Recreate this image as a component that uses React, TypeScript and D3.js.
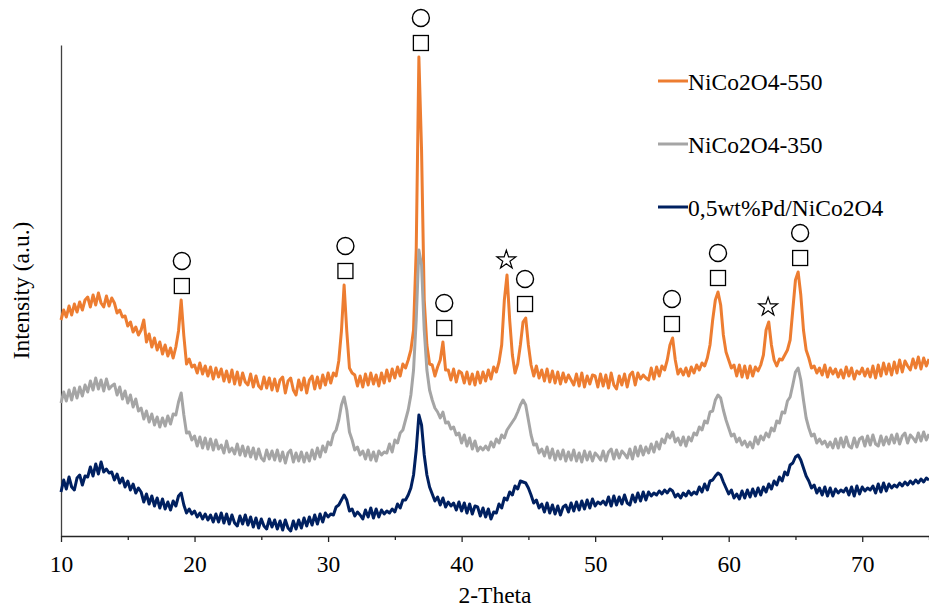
import { useEffect, useRef } from 'react';
import * as d3 from 'd3';

// 2-theta grid of the scans, 0.2° step from 10 to 75
const twoTheta = d3.range(326).map((i) => +(10 + i * 0.2).toFixed(1));

// offset intensities (a.u.), one value per grid step
const nico550 = [
  216, 226, 219, 230, 221, 232, 224, 234, 226, 236,
  239, 229, 241, 231, 243, 233, 229, 240, 230, 238,
  233, 223, 226, 219, 220, 210, 214, 204, 209, 201,
  206, 216, 194, 202, 189, 198, 186, 194, 182, 191,
  180, 188, 178, 189, 205, 236, 200, 172, 177, 169,
  171, 163, 173, 162, 170, 160, 169, 157, 168, 159,
  167, 155, 165, 154, 166, 152, 164, 151, 163, 154,
  151, 162, 149, 160, 150, 147, 159, 148, 158, 146,
  157, 145, 156, 159, 143, 155, 158, 146, 141, 156,
  146, 158, 143, 156, 160, 147, 159, 148, 161, 151,
  163, 153, 163, 160, 175, 205, 251, 205, 168, 163,
  161, 150, 160, 149, 162, 151, 163, 152, 161, 150,
  163, 153, 166, 155, 167, 158, 169, 160, 172, 168,
  176, 186, 206, 286, 479, 386, 236, 191, 172, 171,
  160, 169, 176, 194, 166, 166, 156, 167, 154, 165,
  163, 153, 164, 152, 162, 151, 164, 153, 164, 155,
  166, 157, 169, 164, 174, 191, 236, 261, 216, 181,
  163, 172, 191, 214, 218, 191, 171, 160, 170, 158,
  166, 155, 167, 154, 165, 153, 164, 152, 163, 154,
  161, 156, 151, 162, 150, 163, 149, 160, 152, 161,
  160, 149, 162, 150, 161, 148, 163, 151, 147, 160,
  151, 162, 149, 161, 164, 151, 163, 157, 161, 158,
  156, 168, 157, 169, 160, 170, 166, 176, 191, 198,
  176, 162, 167, 161, 168, 160, 169, 163, 171, 166,
  173, 170, 178, 191, 216, 236, 244, 231, 201, 184,
  176, 168, 171, 160, 171, 159, 170, 158, 170, 160,
  169, 165, 171, 181, 206, 214, 191, 176, 170, 177,
  176, 181, 186, 196, 226, 256, 264, 241, 206, 186,
  178, 168, 170, 163, 168, 161, 171, 159, 168, 162,
  167, 159, 166, 158, 169, 160, 168, 157, 165, 162,
  168, 160, 167, 159, 170, 158, 171, 160, 173, 162,
  172, 161, 174, 163, 176, 164, 175, 170, 166, 177,
  168, 179, 167, 178, 170, 177,
];

const nico350 = [
  133, 144, 135, 146, 136, 148, 138, 149, 140, 151,
  144, 155, 146, 158, 147, 156, 145, 157, 147, 150,
  152, 141, 149, 137, 145, 133, 141, 129, 137, 125,
  128, 117, 125, 114, 122, 111, 119, 109, 118, 110,
  120, 112, 122, 121, 134, 143, 121, 103, 104, 96,
  100, 90, 99, 88, 98, 87, 97, 86, 96, 87,
  91, 83, 95, 84, 88, 82, 92, 81, 90, 80,
  89, 79, 88, 77, 87, 78, 75, 86, 77, 85,
  76, 86, 75, 84, 73, 83, 86, 74, 83, 75,
  84, 74, 83, 75, 86, 77, 88, 79, 90, 84,
  94, 91, 102, 106, 116, 131, 139, 126, 104, 96,
  86, 89, 81, 85, 77, 86, 76, 84, 75, 85,
  81, 84, 83, 92, 84, 96, 93, 103, 106, 116,
  126, 141, 166, 216, 286, 271, 206, 166, 146, 136,
  128, 124, 118, 124, 113, 114, 107, 109, 101, 103,
  93, 101, 90, 98, 87, 95, 85, 89, 86, 90,
  86, 94, 89, 97, 93, 101, 98, 106, 110, 114,
  118, 124, 131, 136, 131, 116, 101, 91, 92, 83,
  87, 80, 89, 78, 87, 76, 85, 77, 86, 75,
  84, 76, 86, 75, 83, 74, 85, 76, 84, 75,
  83, 80, 76, 85, 75, 84, 87, 77, 86, 78,
  85, 82, 78, 87, 77, 89, 80, 90, 81, 89,
  83, 92, 84, 94, 87, 97, 93, 102, 98, 104,
  94, 98, 91, 99, 90, 99, 95, 103, 101, 109,
  106, 115, 113, 124, 125, 136, 141, 138, 126, 116,
  108, 100, 102, 94, 98, 91, 95, 89, 94, 88,
  99, 92, 100, 96, 103, 99, 108, 105, 115, 113,
  124, 123, 135, 139, 151, 164, 168, 156, 136, 118,
  108, 100, 102, 93, 97, 92, 95, 89, 94, 88,
  97, 88, 98, 89, 99, 90, 88, 98, 89, 97,
  99, 90, 100, 91, 101, 92, 90, 100, 91, 99,
  92, 101, 93, 102, 92, 100, 103, 93, 101, 98,
  94, 103, 95, 104, 96, 102,
];

const pdNico = [
  44, 56, 47, 59, 49, 46, 58, 61, 51, 60,
  59, 69, 60, 72, 62, 74, 64, 67, 63, 64,
  56, 62, 53, 58, 49, 55, 46, 52, 43, 48,
  44, 34, 42, 32, 40, 30, 38, 28, 37, 27,
  34, 26, 35, 30, 40, 43, 31, 23, 27, 22,
  25, 19, 23, 17, 22, 16, 21, 14, 22, 14,
  23, 13, 22, 12, 21, 13, 10, 20, 12, 21,
  11, 19, 9, 18, 8, 17, 10, 7, 17, 9,
  16, 7, 15, 6, 16, 8, 5, 15, 7, 16,
  8, 18, 10, 19, 11, 21, 12, 22, 14, 23,
  19, 22, 21, 29, 31, 36, 41, 36, 25, 27,
  20, 24, 21, 17, 26, 19, 28, 18, 27, 19,
  26, 22, 25, 23, 27, 24, 32, 28, 36, 36,
  41, 48, 61, 86, 121, 111, 81, 61, 49, 42,
  35, 39, 31, 38, 29, 34, 30, 33, 26, 34,
  25, 33, 23, 32, 22, 30, 29, 20, 28, 19,
  27, 17, 24, 23, 32, 28, 38, 36, 44, 41,
  50, 47, 55, 54, 53, 48, 41, 33, 36, 28,
  32, 24, 33, 23, 31, 22, 30, 21, 29, 31,
  24, 33, 25, 34, 26, 35, 27, 36, 28, 37,
  30, 34, 32, 35, 31, 39, 30, 40, 31, 39,
  32, 41, 33, 31, 41, 34, 43, 35, 44, 36,
  44, 40, 43, 41, 45, 42, 46, 43, 47, 45,
  39, 42, 38, 43, 40, 45, 41, 44, 42, 49,
  44, 52, 46, 55, 56, 60, 63, 61, 54, 48,
  42, 46, 38, 42, 37, 45, 38, 46, 39, 47,
  40, 48, 41, 49, 44, 52, 47, 55, 51, 59,
  55, 64, 61, 71, 73, 79, 81, 76, 68, 60,
  55, 48, 51, 43, 48, 41, 49, 40, 48, 40,
  47, 43, 46, 44, 48, 41, 49, 40, 50, 42,
  49, 45, 48, 46, 50, 43, 52, 44, 53, 45,
  52, 48, 51, 49, 53, 50, 54, 51, 55, 52,
  56, 53, 57, 54, 58, 56,
];

const seriesNames = ['NiCo2O4-550', 'NiCo2O4-350', '0,5wt%Pd/NiCo2O4'];
const seriesColors = ['#ED7D31', '#A5A5A5', '#002060'];
const seriesData = [nico550, nico350, pdNico];

const xTicks = [10, 20, 30, 40, 50, 60, 70];
const xMinorTicks = [15, 25, 35, 45, 55, 65, 75];

// reflections marked above the 550 pattern ('cs' = circle + square, 'star')
const markTheta = [19.05, 31.3, 36.95, 38.7, 43.35, 44.75, 55.75, 59.2, 62.95, 65.35];
const markKind = ['cs', 'cs', 'cs', 'cs', 'star', 'cs', 'cs', 'cs', 'star', 'cs'];

const FONT = '"Liberation Serif", "Times New Roman", serif';
const FONT_SIZE = 23.5;

const XrdChart = () => {
  const svgRef = useRef<SVGSVGElement>(null);

  useEffect(() => {
    const width = 929;
    const height = 609;
    const svg = d3.select(svgRef.current);
    svg.selectAll('*').remove();
    svg.attr('width', width).attr('height', height);

    const x = d3.scaleLinear().domain([10, 75]).range([61, 929]);
    const y = d3.scaleLinear().domain([0, 491]).range([536, 45]);

    // y axis: just the line, no ticks
    const yAxis = svg
      .append('g')
      .attr('transform', `translate(${x(10)},0)`)
      .call(d3.axisLeft(y).tickValues([]).tickSizeOuter(0));
    yAxis.select('.domain').attr('stroke', '#404040').attr('stroke-width', 1.3);

    // x axis, major + minor ticks
    const xAxis = svg
      .append('g')
      .attr('transform', `translate(0,${y(0)})`)
      .call(
        d3.axisBottom(x).tickValues(xTicks).tickSize(6).tickSizeOuter(0).tickPadding(13)
      );
    xAxis.select('.domain').attr('stroke', '#262626').attr('stroke-width', 1.3);
    xAxis.selectAll('.tick line').attr('stroke', '#262626').attr('stroke-width', 1.3);
    xAxis
      .selectAll('text')
      .attr('font-family', FONT)
      .attr('font-size', FONT_SIZE)
      .attr('fill', '#000');

    const minor = svg
      .append('g')
      .attr('transform', `translate(0,${y(0)})`)
      .call(d3.axisBottom(x).tickValues(xMinorTicks).tickSize(4).tickSizeOuter(0).tickFormat(() => ''));
    minor.select('.domain').remove();
    minor.selectAll('.tick line').attr('stroke', '#262626').attr('stroke-width', 1.3);

    // patterns
    const line = d3
      .line<number>()
      .x((_, i) => x(twoTheta[i]))
      .y((d) => y(d));

    seriesData.forEach((data, k) => {
      svg
        .append('path')
        .datum(data)
        .attr('d', line)
        .attr('fill', 'none')
        .attr('stroke', seriesColors[k])
        .attr('stroke-width', 3)
        .attr('stroke-linejoin', 'round');
    });

    // phase symbols above the 550 peaks
    const peakTop = (t: number) =>
      d3.max(twoTheta.map((tt, i) => (Math.abs(tt - t) <= 0.3 ? nico550[i] : -Infinity))) as number;

    const marks = svg.append('g');
    markTheta.forEach((t, i) => {
      const cx = x(t);
      const top = y(peakTop(t));
      if (markKind[i] === 'star') {
        marks
          .append('path')
          .attr('d', d3.symbol().type(d3.symbolStar).size(110)())
          .attr('transform', `translate(${cx},${top - 15})`)
          .attr('fill', '#fff')
          .attr('stroke', '#000')
          .attr('stroke-width', 1.2);
      } else {
        marks
          .append('rect')
          .attr('x', cx - 7.5)
          .attr('y', top - 14 - 7.5)
          .attr('width', 15)
          .attr('height', 15)
          .attr('fill', '#fff')
          .attr('stroke', '#000')
          .attr('stroke-width', 1.3);
        marks
          .append('circle')
          .attr('cx', cx)
          .attr('cy', top - 39)
          .attr('r', 8.5)
          .attr('fill', '#fff')
          .attr('stroke', '#000')
          .attr('stroke-width', 1.4);
      }
    });

    // legend
    const legend = svg.append('g');
    seriesNames.forEach((name, k) => {
      const ly = 81 + k * 63;
      legend
        .append('line')
        .attr('x1', 658)
        .attr('x2', 688)
        .attr('y1', ly)
        .attr('y2', ly)
        .attr('stroke', seriesColors[k])
        .attr('stroke-width', 3);
      legend
        .append('text')
        .attr('x', 688)
        .attr('y', ly + 9)
        .attr('font-family', FONT)
        .attr('font-size', FONT_SIZE)
        .attr('fill', '#000')
        .text(name);
    });

    // axis titles
    svg
      .append('text')
      .attr('x', (x(10) + x(75)) / 2)
      .attr('y', 603)
      .attr('text-anchor', 'middle')
      .attr('font-family', FONT)
      .attr('font-size', FONT_SIZE)
      .attr('fill', '#000')
      .text('2-Theta');

    svg
      .append('text')
      .attr('transform', `translate(29,${(y(0) + y(491)) / 2}) rotate(-90)`)
      .attr('text-anchor', 'middle')
      .attr('font-family', FONT)
      .attr('font-size', FONT_SIZE)
      .attr('fill', '#000')
      .text('Intensity (a.u.)');
  }, []);

  return (
    <svg
      ref={svgRef}
      style={{ position: 'absolute', left: 0, top: 0, display: 'block', background: '#fff' }}
    ></svg>
  );
};

export default function App() {
  return <XrdChart />;
}
